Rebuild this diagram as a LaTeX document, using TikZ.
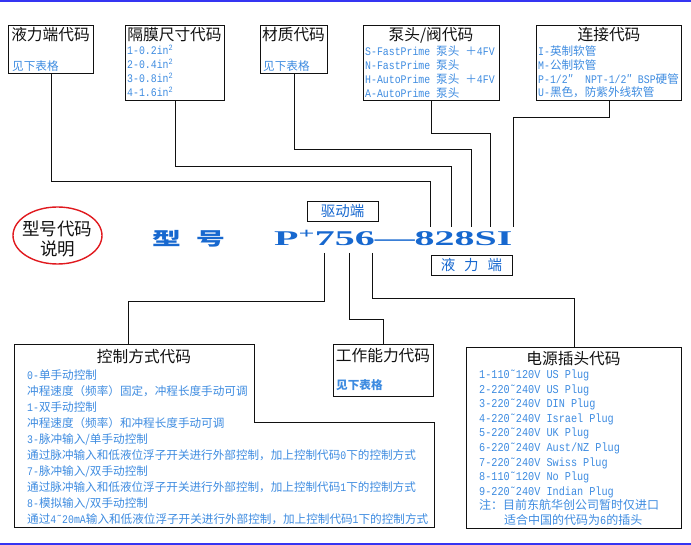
\documentclass[tikz,border=0pt]{standalone}
\usepackage{fontspec}
\usepackage{xcolor}
\usepackage{tikz}
\usetikzlibrary{shapes.geometric}
\setmainfont{Noto Sans CJK SC}
\newfontfamily\mono[FakeStretch=0.85]{Liberation Mono}
\newfontfamily\modelfont[FakeStretch=1.9]{Liberation Serif}
\newfontfamily\widecjk[FakeStretch=1.6]{Noto Sans CJK SC}
\definecolor{ink}{HTML}{111111}
\definecolor{sky}{HTML}{3D8BE0}
\definecolor{navy}{HTML}{1768CF}
\definecolor{rule}{HTML}{3535F2}
\definecolor{ring}{HTML}{E0191E}
\tikzset{
  box/.style={draw=ink, line width=0.9pt, inner sep=0pt, anchor=north west},
  wire/.style={draw=ink, line width=0.9pt},
  bar/.style={draw=rule, line width=2pt},
  ttl/.style={text=ink, inner sep=0pt, font=\fontsize{15.7}{18}\selectfont},
  lst/.style={text=sky, inner sep=0pt, anchor=base west, font=\fontsize{11.6}{14}\selectfont},
  plug/.style={lst, font=\fontsize{12}{14}\selectfont},
  tag/.style={draw=ink, line width=0.9pt, inner sep=0pt, text=navy, font=\fontsize{14.5}{17}\selectfont},
  mdl/.style={text=navy, inner sep=0pt},
  oval/.style={ellipse, draw=ring, line width=1.4pt, inner sep=0pt}
}

\begin{document}
\begin{tikzpicture}[x=1pt, y=-1pt]
  \useasboundingbox (0,0) rectangle (691,545);
  \draw[bar] (0,1) -- (691,1);
  \draw[bar] (0,544) -- (691,544);

  % top row
  \node[box, minimum width=85, minimum height=48] (b1) at (8,25) {};
  \node[ttl] (t1) at (50.5,35) {液力端代码};
  \node[lst] (l1) at (12,70.5) {见下表格};

  \node[box, minimum width=99, minimum height=75] (b2) at (125,25) {};
  \node[ttl] (t2) at (174.5,35) {隔膜尺寸代码};
  \foreach \s [count=\i] in {1-0.2,2-0.4,3-0.8,4-1.6}
    \node[lst] (m\i) at (127,{55+14*(\i-1)}) {\mono\s{}in\textsuperscript{2}};

  \node[box, minimum width=67, minimum height=48] (b3) at (260,25) {};
  \node[ttl] (t3) at (293.5,35) {材质代码};
  \node[lst] (l3) at (263,70.5) {见下表格};

  \node[box, minimum width=136, minimum height=75] (b4) at (363,25) {};
  \node[ttl] (t4) at (431,35) {泵头/阀代码};
  \node[lst] (p1) at (365,56) {{\mono S-FastPrime }泵头{\mono\ }＋{\mono 4FV}};
  \node[lst] (p2) at (365,70) {{\mono N-FastPrime }泵头};
  \node[lst] (p3) at (365,84) {{\mono H-AutoPrime }泵头{\mono\ }＋{\mono 4FV}};
  \node[lst] (p4) at (365,97.5) {{\mono A-AutoPrime }泵头};

  \node[box, minimum width=145, minimum height=75] (b5) at (536,25) {};
  \node[ttl] (t5) at (609,35) {连接代码};
  \node[lst] (k1) at (538,56) {{\mono I-}英制软管};
  \node[lst] (k2) at (538,69.5) {{\mono M-}公制软管};
  \node[lst] (k3) at (538,83.5) {{\mono P-1/2}″{\mono\ \ NPT-1/2}″{\mono\ BSP}硬管};
  \node[lst] (k4) at (538,97) {{\mono U-}黑色，防紫外线软管};

  % model line
  \node[oval, minimum width=89, minimum height=57] (ovl) at (57.5,235.5) {};
  \node[ttl, align=center, font=\fontsize{17.5}{20}\selectfont] (ovltx) at (57.5,239) {型号代码\\说明};
  \node[mdl, anchor=west] (xh) at (152,239) {\fontsize{18}{20}\selectfont\widecjk\bfseries 型\hspace{16pt}号};
  \node[mdl, anchor=base west] (code) at (274,246)
    {\fontsize{21}{24}\selectfont\modelfont\bfseries P\textsuperscript{+}756—828SI};
  \node[tag, minimum width=71, minimum height=20] (drv) at (342.5,211) {驱动端};
  \node[tag, minimum width=81, minimum height=20] (wet) at (471.5,265) {液\hspace{9pt}力\hspace{9pt}端};

  \coordinate (h1) at (430,227);
  \coordinate (h2) at (451,227);
  \coordinate (h3) at (471,227);
  \coordinate (h4) at (490,227);
  \coordinate (h5) at (513,227);
  \draw[wire] (b1.south) -- ++(0,108) -| (h1);
  \draw[wire] (b2.south) -- ++(0,66) -| (h2);
  \draw[wire] (b3.south) -- ++(0,76) -| (h3);
  \draw[wire] (b4.south) -- ++(0,33) -| (h4);
  \draw[wire] (b5.south) -- ++(0,17) -| (h5);

  % bottom row
  \draw[wire] (14,344) -- (254,344) -- (254,422) -- (434,422) -- (434,527) -- (14,527) -- cycle;
  \coordinate (ctl) at (128,344);
  \node[ttl] (ct) at (144,357) {控制方式代码};
  \foreach \s [count=\i] in {
      {\mono 0-}单手动控制,
      冲程速度（频率）固定，冲程长度手动可调,
      {\mono 1-}双手动控制,
      冲程速度（频率）和冲程长度手动可调,
      {\mono 3-}脉冲输入/单手动控制,
      通过脉冲输入和低液位浮子开关进行外部控制，加上控制代码{\mono 0}下的控制方式,
      {\mono 7-}脉冲输入/双手动控制,
      通过脉冲输入和低液位浮子开关进行外部控制，加上控制代码{\mono 1}下的控制方式,
      {\mono 8-}模拟输入/双手动控制,
      通过{\mono 4˜20mA}输入和低液位浮子开关进行外部控制，加上控制代码{\mono 1}下的控制方式}
    \node[lst] (c\i) at (27,{379.5+16*(\i-1)}) {\s};

  \node[box, minimum width=100, minimum height=52] (work) at (333,344) {};
  \node[ttl] (wt) at (383,356) {工作能力代码};
  \node[lst] (wl) at (336,389.5) {\bfseries 见下表格};

  \node[box, minimum width=215, minimum height=181] (power) at (466,347) {};
  \node[ttl] (pt) at (573.5,359) {电源插头代码};
  \foreach \s [count=\i] in {1-110˜120V US Plug, 2-220˜240V US Plug, 3-220˜240V DIN Plug,
      4-220˜240V Israel Plug, 5-220˜240V UK Plug, 6-220˜240V Aust/NZ Plug,
      7-220˜240V Swiss Plug, 8-110˜120V No Plug, 9-220˜240V Indian Plug}
    \node[plug] (u\i) at (479,{378.5+14.6*(\i-1)}) {\mono\s};
  \node[plug] (n1) at (479,509) {注：目前东航华创公司暂时仅进口};
  \node[plug] (n2) at (504,524) {适合中国的代码为{\mono 6}的插头};

  \coordinate (g1) at (324,253);
  \coordinate (g2) at (349,253);
  \coordinate (g3) at (372,253);
  \draw[wire] (g1) -- ++(0,48) -| (ctl);
  \draw[wire] (g2) -- ++(0,66) -| (work.north);
  \draw[wire] (g3) -- ++(0,45) -| (power.north);
\end{tikzpicture}
\end{document}
